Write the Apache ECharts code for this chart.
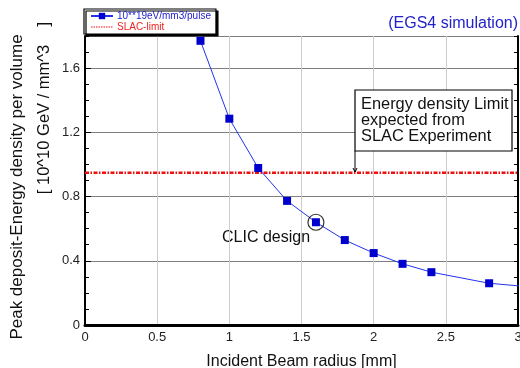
<!DOCTYPE html>
<html><head><meta charset="utf-8">
<script src="https://cdn.jsdelivr.net/npm/echarts@6/dist/echarts.min.js"></script>
<style>html,body{margin:0;padding:0;background:#fff}#c{width:520px;height:368px}</style>
</head><body><div id="c"></div>
<script>
const radius = [0.8, 1.0, 1.2, 1.4, 1.6, 1.8, 2.0, 2.2, 2.4, 2.8, 3.2];
const density = [1.77, 1.285, 0.978, 0.773, 0.64, 0.529, 0.448, 0.381, 0.329, 0.26, 0.228];
const slacX = [0, 3];
const slacY = [0.948, 0.948];
const clicPoint = [1.6, 0.64];
const seriesNames = ['10**19eV/mm3/pulse', 'SLAC-limit'];
const FONT = "'Liberation Sans', Arial, sans-serif";

const chart = echarts.init(document.getElementById('c'), null, {renderer: 'canvas'});
const mainData = radius.map((r, i) => [r, density[i]]);
const slacData = slacX.map((x, i) => [x, slacY[i]]);

chart.setOption({
  animation: false,
  backgroundColor: '#fff',
  textStyle: {fontFamily: FONT},
  grid: {left: 85, right: 2, top: 36, bottom: 43, containLabel: false, outerBoundsMode: 'none'},
  legend: {
    orient: 'vertical', left: 84, top: 9,
    padding: [2, 5, 2, 6], itemGap: 1, itemWidth: 22, itemHeight: 8,
    backgroundColor: '#fff', borderColor: '#000', borderWidth: 1.2,
    shadowColor: '#000', shadowOffsetX: 2, shadowOffsetY: 2, shadowBlur: 0,
    textStyle: {fontFamily: FONT, fontSize: 10, lineHeight: 9, padding: [0,0,0,-1]},
    data: [
      {name: seriesNames[0], textStyle: {color: '#2222cc'}},
      {name: seriesNames[1], textStyle: {color: '#ee2222'}, itemStyle: {opacity: 0},
       lineStyle: {width: 1, type: [1.5, 1]}}
    ]
  },
  xAxis: [{
    type: 'value', min: 0, max: 3, interval: 0.5,
    name: 'Incident Beam radius [mm]', nameLocation: 'middle', nameGap: 29,
    nameTextStyle: {fontSize: 16, color: '#111', fontFamily: FONT},
    axisLine: {lineStyle: {color: '#000', width: 3}},
    axisTick: {show: false},
    axisLabel: {fontSize: 13, color: '#222', margin: 6, fontFamily: FONT},
    splitLine: {show: true, lineStyle: {color: '#cccccc', width: 1}}
  }, {
    type: 'value', min: 0, max: 3, position: 'top',
    axisLine: {show: true, lineStyle: {color: '#000', width: 2}},
    axisTick: {show: false}, axisLabel: {show: false}, splitLine: {show: false}
  }],
  yAxis: [{
    type: 'value', min: 0, max: 1.8, interval: 0.4, position: 'left',
    axisLine: {show: true, lineStyle: {color: '#000', width: 2}},
    axisTick: {show: true, inside: true, length: 6, lineStyle: {color: '#000', width: 1}},
    axisLabel: {fontSize: 13, color: '#222', margin: 5, showMaxLabel: false, fontFamily: FONT},
    splitLine: {show: true, lineStyle: {color: '#808080', width: 1}}
  }, {
    type: 'value', min: 0, max: 1.8, interval: 0.1, position: 'left', offset: 0,
    axisLine: {show: false},
    axisTick: {show: true, inside: true, length: 4, lineStyle: {color: '#000', width: 1}},
    axisLabel: {show: false}, splitLine: {show: false}
  }, {
    type: 'value', min: 0, max: 1.8, interval: 0.1, position: 'right',
    axisLine: {show: true, lineStyle: {color: '#000', width: 2}},
    axisTick: {show: true, inside: true, length: 4, lineStyle: {color: '#000', width: 1}},
    axisLabel: {show: false}, splitLine: {show: false}
  }],
  series: [{
    name: seriesNames[1], type: 'line', data: slacData, symbol: 'none',
    xAxisIndex: 0, yAxisIndex: 0, z: 3,
    lineStyle: {color: '#ee1111', width: 2.5, type: [4, 1.5, 1.5, 1.5]},
    itemStyle: {color: '#ee1111'}
  }, {
    name: seriesNames[0], type: 'line', data: mainData, clip: true,
    xAxisIndex: 0, yAxisIndex: 0, z: 4,
    symbol: 'rect', symbolSize: 8,
    lineStyle: {color: '#2233ee', width: 1},
    itemStyle: {color: '#0000cc'}
  }, {
    name: 'CLIC', type: 'scatter', data: [clicPoint], xAxisIndex: 0, yAxisIndex: 0, z: 5,
    symbol: 'circle', symbolSize: 16,
    itemStyle: {color: 'rgba(0,0,0,0)', borderColor: '#000', borderWidth: 1.2}
  }],
  graphic: [
    {type: 'text', right: 2, top: 16, style: {text: '(EGS4 simulation)', font: '16px ' + FONT, fill: '#2222cc'}},
    {type: 'text', left: 222, top: 230, style: {text: 'CLIC design', font: '16px ' + FONT, fill: '#111'}},
    {type: 'text', x: 17, y: 187, rotation: Math.PI / 2,
     style: {text: 'Peak deposit-Energy density per volume', font: '17px ' + FONT, fill: '#111', align: 'center', verticalAlign: 'middle'}},
    {type: 'text', x: 44, y: 108, rotation: Math.PI / 2,
     style: {text: '[ 10^10 GeV / mm^3    ]', font: '16.5px ' + FONT, fill: '#111', align: 'center', verticalAlign: 'middle'}},
    {type: 'rect', shape: {x: 355, y: 90, width: 157, height: 61}, style: {fill: '#fff', stroke: '#000', lineWidth: 1.2}, z: 10},
    {type: 'text', x: 361, y: 96, z: 11,
     style: {text: 'Energy density Limit\nexpected from\nSLAC Experiment', font: '16.4px ' + FONT, fill: '#111', lineHeight: 16}},
    {type: 'line', shape: {x1: 355, y1: 151, x2: 355, y2: 172}, style: {stroke: '#000', lineWidth: 1}, z: 10},
    {type: 'polyline', shape: {points: [[353, 168], [355, 172], [357, 168]]}, style: {stroke: '#000', lineWidth: 1, fill: null}, z: 10}
  ]
});
</script></body></html>
